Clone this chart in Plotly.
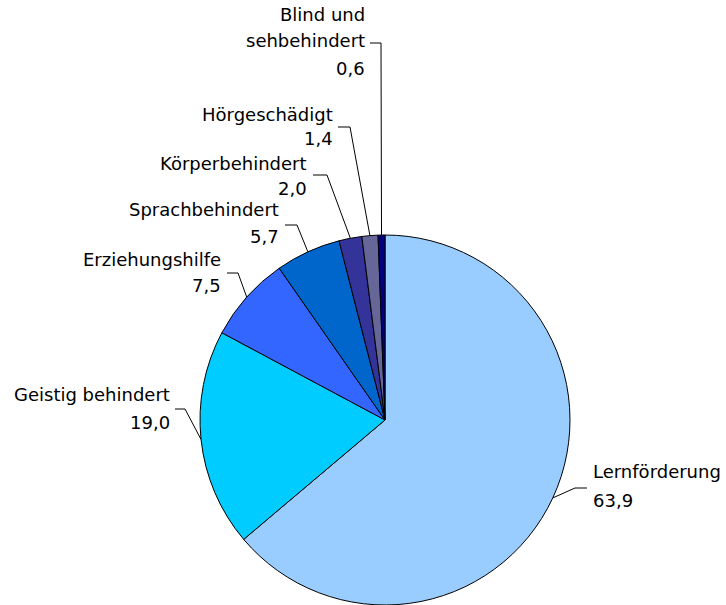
import math
import plotly.graph_objects as go

# ---- data ----
categories = ["Lernförderung", "Geistig behindert", "Erziehungshilfe",
              "Sprachbehindert", "Körperbehindert", "Hörgeschädigt",
              "Blind und sehbehindert"]
values = [63.9, 19.0, 7.5, 5.7, 2.0, 1.4, 0.6]
value_labels = ["63,9", "19,0", "7,5", "5,7", "2,0", "1,4", "0,6"]
name_lines = [["Lernförderung"], ["Geistig behindert"], ["Erziehungshilfe"],
              ["Sprachbehindert"], ["Körperbehindert"], ["Hörgeschädigt"],
              ["Blind und", "sehbehindert"]]

# ---- style / layout ----
colors = ["#99CCFF", "#00CCFF", "#3366FF", "#0066CC", "#333399", "#666699", "#000080"]
W, H = 726, 605
CX, CY, R = 385, 420, 185
FONT = dict(family="DejaVu Sans, Liberation Sans, Arial", size=18, color="#000000")

# per label: text anchor x (px), side, baselines (px) of each text line,
# horizontal leader segment (x0, x1, y) in px
label_pos = [
    dict(x=592, side="left", base=[478, 507], hseg=(587, 575, 488)),
    dict(x=171, side="right", base=[401, 429], hseg=(175, 185, 409)),
    dict(x=222, side="right", base=[266, 292], hseg=(227, 238, 273)),
    dict(x=280, side="right", base=[216, 243], hseg=(285, 297, 225)),
    dict(x=308, side="right", base=[170, 195], hseg=(313, 327, 175)),
    dict(x=334, side="right", base=[121, 145], hseg=(338, 350, 127)),
    dict(x=366, side="right", base=[21, 47, 75], hseg=(370, 381, 43)),
]


def px(x):
    return x / W


def py(y):
    return 1 - y / H


fig = go.Figure(go.Pie(
    labels=categories, values=values, sort=False, direction="clockwise",
    rotation=0, textinfo="none", hoverinfo="label+value",
    marker=dict(colors=colors, line=dict(color="#000000", width=1)),
    domain=dict(x=[px(CX - R), px(CX + R)], y=[py(CY + R), py(CY - R)]),
    showlegend=False,
))

annotations = []
shapes = []
total = sum(values)
cum = 0.0
for i, v in enumerate(values):
    mid = (cum + v / 2) / total * 2 * math.pi
    cum += v
    ex = CX + R * math.sin(mid)
    ey = CY - R * math.cos(mid)
    lp = label_pos[i]
    lines = name_lines[i] + [value_labels[i]]
    for line, b in zip(lines, lp["base"]):
        annotations.append(dict(
            text=line, x=px(lp["x"]), y=py(b - 6.5), xref="paper", yref="paper",
            xanchor="left" if lp["side"] == "left" else "right", yanchor="middle",
            showarrow=False, font=FONT, borderpad=0,
        ))
    x0, x1, hy = lp["hseg"]
    path = f"M {px(x0)} {py(hy)} L {px(x1)} {py(hy)} L {px(ex)} {py(ey)}"
    shapes.append(dict(type="path", xref="paper", yref="paper", path=path,
                       line=dict(color="#000000", width=1)))

fig.update_layout(
    width=W, height=H, margin=dict(l=0, r=0, t=0, b=0),
    paper_bgcolor="white", plot_bgcolor="white",
    annotations=annotations, shapes=shapes,
)

fig.write_html("out.html", config={"displayModeBar": False},
               post_script="document.body.style.margin='0';document.body.style.overflow='hidden';")
